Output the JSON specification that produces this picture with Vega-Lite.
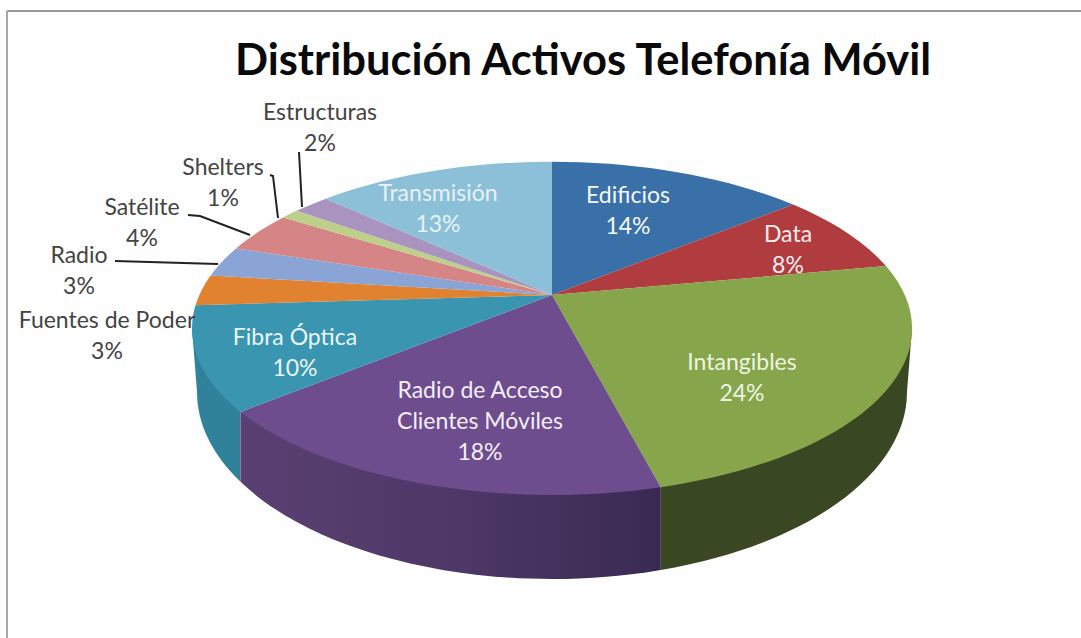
{
"$schema":"https://vega.github.io/schema/vega-lite/v6.json",
"width":1081,"height":638,"padding":0,"autosize":{"type":"none"},
"background":"#fefefe",
"config":{"view":{"stroke":null}},
"data":{"values":[
{"name":"Edificios","value":14},
{"name":"Data","value":8},
{"name":"Intangibles","value":24},
{"name":"Radio de Acceso\nClientes Móviles","value":18},
{"name":"Fibra Óptica","value":10},
{"name":"Fuentes de Poder","value":3},
{"name":"Radio","value":3},
{"name":"Satélite","value":4},
{"name":"Shelters","value":1},
{"name":"Estructuras","value":2},
{"name":"Transmisión","value":13}
]},
"transform":[
{"stack":"value","groupby":[],"as":["s0","s1"]},
{"calculate":"datum.s0*PI/50","as":"t0"},
{"calculate":"datum.s1*PI/50","as":"t1"},
{"calculate":"352.7*sin(datum.t0)/(1+0.2*cos(datum.t0))","as":"x0"},
{"calculate":"-160*cos(datum.t0)/(1+0.2*cos(datum.t0))","as":"y0"},
{"calculate":"352.7*sin(datum.t1)/(1+0.2*cos(datum.t1))","as":"x1"},
{"calculate":"-160*cos(datum.t1)/(1+0.2*cos(datum.t1))","as":"y1"},
{"calculate":"'M0,0L'+datum.x0+','+datum.y0+'A360,166.5 0 0 1 '+datum.x1+','+datum.y1+'Z'","as":"topPath"},
{"calculate":"max(datum.t0,1.771)","as":"a0"},
{"calculate":"min(datum.t1,4.512)","as":"a1"},
{"calculate":"352.7*sin(datum.a0)/(1+0.2*cos(datum.a0))","as":"px0"},
{"calculate":"-160*cos(datum.a0)/(1+0.2*cos(datum.a0))","as":"py0"},
{"calculate":"352.7*sin(datum.a1)/(1+0.2*cos(datum.a1))","as":"px1"},
{"calculate":"-160*cos(datum.a1)/(1+0.2*cos(datum.a1))","as":"py1"},
{"calculate":"max(-355,min(355,datum.px0))","as":"qx0"},
{"calculate":"max(-355,min(355,datum.px1))","as":"qx1"},
{"calculate":"97+187*sqrt(max(0,1-pow(datum.qx0/355,2)))","as":"qy0"},
{"calculate":"97+187*sqrt(max(0,1-pow(datum.qx1/355,2)))","as":"qy1"},
{"calculate":"'M'+datum.px0+','+datum.py0+'L'+datum.qx0+','+datum.qy0+'A355,187 0 0 1 '+datum.qx1+','+datum.qy1+'L'+datum.px1+','+datum.py1+'Z'","as":"wallPath"},
{"calculate":"datum.name+'\\n'+datum.value+'%'","as":"label"},
{"calculate":"{'Edificios':76,'Data':236,'Intangibles':190,'Radio de Acceso\\nClientes Móviles':-72,'Fibra Óptica':-257,'Fuentes de Poder':-445,'Radio':-473,'Satélite':-410,'Shelters':-329,'Estructuras':-232,'Transmisión':-114}[datum.name]","as":"labelX"},
{"calculate":"{'Edificios':-99,'Data':-60,'Intangibles':68,'Radio de Acceso\\nClientes Móviles':96,'Fibra Óptica':43,'Fuentes de Poder':26,'Radio':-39,'Satélite':-87,'Shelters':-127,'Estructuras':-182,'Transmisión':-101}[datum.name]","as":"labelY"}
],
"layer":[
{"data":{"values":[{"edge":"top"}]},
 "mark":{"type":"rule","color":"#9a9a9a","strokeWidth":2},
 "encoding":{"x":{"datum":-545,"type":"quantitative","scale":{"domain":[-552,529],"range":[0,1081],"nice":false,"zero":false},"axis":null},"x2":{"datum":529},"y":{"datum":-284,"type":"quantitative","scale":{"domain":[-295,343],"range":[0,638],"nice":false,"zero":false},"axis":null}}},
{"data":{"values":[{"edge":"left"}]},
 "mark":{"type":"rule","color":"#a8a8a8","strokeWidth":2},
 "encoding":{"x":{"datum":-545,"type":"quantitative","axis":null},"y":{"datum":-284,"type":"quantitative","axis":null},"y2":{"datum":343}}},
{"data":{"values":[{"title":"Distribución Activos Telefonía Móvil"}]},
 "mark":{"type":"text","font":"Lato","fontWeight":"bold","fontSize":43.5,"color":"#0a0a0a","align":"center","baseline":"alphabetic"},
 "encoding":{"x":{"datum":31,"type":"quantitative","axis":null},"y":{"datum":-220,"type":"quantitative","axis":null},"text":{"field":"title","type":"nominal"}}},
{"transform":[{"filter":"datum.a1>datum.a0 && datum.value!=18"}],
 "mark":{"type":"point","filled":true,"size":4,"opacity":1},
 "encoding":{"x":{"datum":0,"type":"quantitative","axis":null},"y":{"datum":0,"type":"quantitative","axis":null},
  "shape":{"field":"wallPath","type":"nominal","scale":null,"legend":null},
  "fill":{"field":"name","type":"nominal","legend":null,"scale":{"domain":["Intangibles","Fibra Óptica"],"range":["#3a4723","#2f8299"]}}}},
{"transform":[{"filter":"datum.value==18"}],
 "mark":{"type":"point","filled":true,"size":4,"opacity":1,"fill":{"gradient":"linear","x1":0,"y1":0,"x2":1,"y2":0,"stops":[{"offset":0,"color":"#5a4072"},{"offset":0.5,"color":"#4e3868"},{"offset":1,"color":"#3a2a52"}]}},
 "encoding":{"x":{"datum":0,"type":"quantitative","axis":null},"y":{"datum":0,"type":"quantitative","axis":null},
  "shape":{"field":"wallPath","type":"nominal","scale":null,"legend":null}}},
{"mark":{"type":"point","filled":true,"size":4,"opacity":1},
 "encoding":{"x":{"datum":0,"type":"quantitative","axis":null},"y":{"datum":0,"type":"quantitative","axis":null},
  "shape":{"field":"topPath","type":"nominal","scale":null,"legend":null},
  "fill":{"field":"name","type":"nominal","legend":null,"scale":{"domain":["Edificios","Data","Intangibles","Radio de Acceso\nClientes Móviles","Fibra Óptica","Fuentes de Poder","Radio","Satélite","Shelters","Estructuras","Transmisión"],"range":["#3a70a8","#b03c40","#87a64c","#6d4d8e","#3a95b0","#e0822f","#8aa5d5","#d58585","#bcd08a","#a994c0","#8cc0d8"]}}}},
{"data":{"values":[{"leader":"Radio"},{"leader":"Satélite"},{"leader":"Shelters"},{"leader":"Estructuras"}]},
 "mark":{"type":"point","filled":false,"size":4,"opacity":1,"stroke":"#222222","strokeWidth":2,"fill":"transparent"},
 "encoding":{"x":{"datum":0,"type":"quantitative","axis":null},"y":{"datum":0,"type":"quantitative","axis":null},
  "shape":{"field":"leader","type":"nominal","legend":null,"scale":{"domain":["Radio","Satélite","Shelters","Estructuras"],"range":["M-437,-34L-334,-31","M-364,-80L-352,-79L-302,-60","M-282,-120L-279,-119L-274,-77","M-253,-143L-250,-88"]}}}},
{"mark":{"type":"text","font":"Lato","fontSize":23,"lineHeight":31,"lineBreak":"\n","align":"center","baseline":"middle"},
 "encoding":{
  "x":{"field":"labelX","type":"quantitative","axis":null},
  "y":{"field":"labelY","type":"quantitative","axis":null},
  "text":{"field":"label","type":"nominal"},
  "color":{"field":"name","type":"nominal","legend":null,"scale":{"domain":["Edificios","Data","Intangibles","Radio de Acceso\nClientes Móviles","Fibra Óptica","Fuentes de Poder","Radio","Satélite","Shelters","Estructuras","Transmisión"],"range":["#f4f7fb","#fbeeee","#eef4e2","#f3eef8","#e8f6fa","#444444","#444444","#444444","#444444","#444444","#e6f3f8"]}}}}
],
"resolve":{"scale":{"shape":"independent","fill":"independent","color":"independent"}}
}
